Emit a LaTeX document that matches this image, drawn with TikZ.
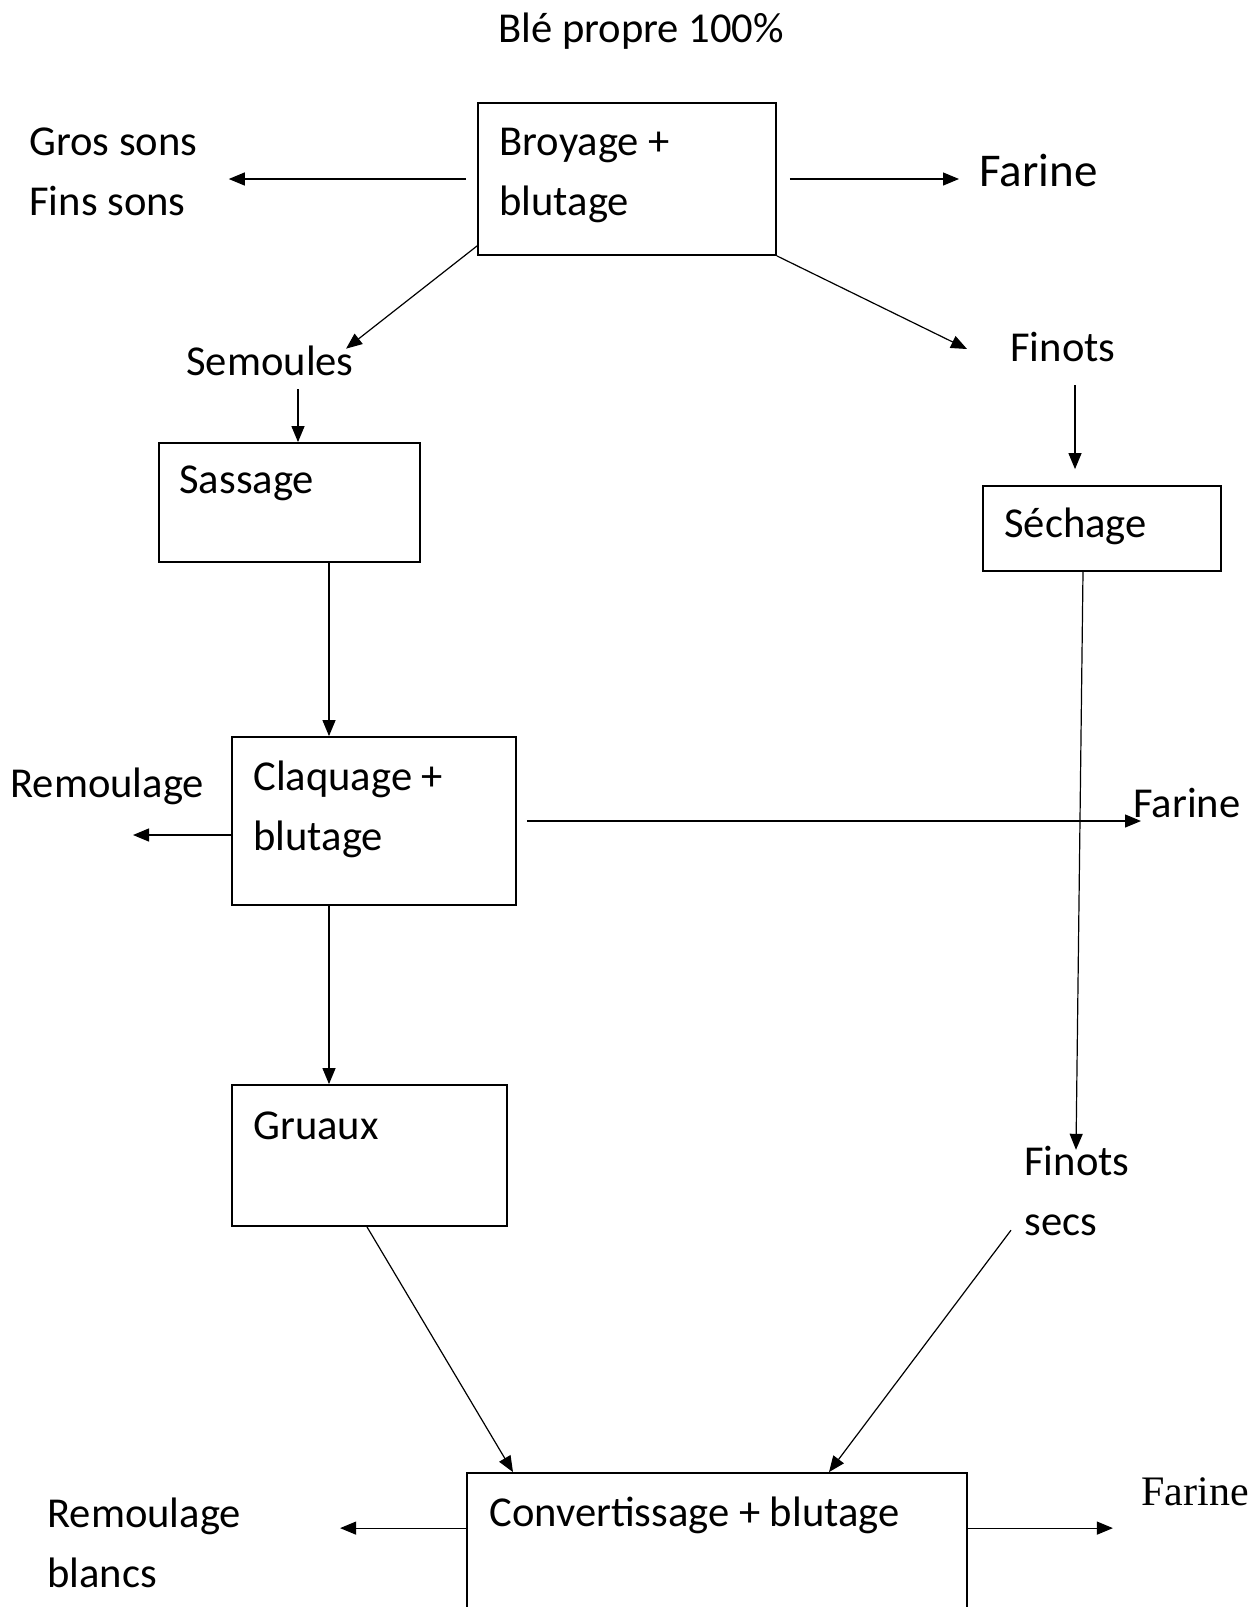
\documentclass[tikz,border=0pt]{standalone}
\usepackage{fontspec}
\setmainfont{Carlito}
\newfontfamily\timesfont{Liberation Serif}
\usetikzlibrary{arrows.meta, positioning, fit, calc}

\begin{document}
\begin{tikzpicture}[x=0.5pt, y=-0.5pt,
    box/.style={draw, line width=0.9pt, inner sep=0pt},
    txt/.style={inner sep=0pt, anchor=west, align=left, font=\fontsize{21.3}{30}\selectfont},
    arr/.style={line width=0.6pt, -{Triangle[length=8pt, width=6.5pt]}}]
  \useasboundingbox (0,0) rectangle (1259,1607);

  % Title
  \node[txt, anchor=center] (ble) at (641,31) {Blé propre 100\%};

  % Boxes
  \node[box, fit={(478,103) (776,255)}] (broyage) {};
  \node[box, fit={(159,443) (420,562)}] (sassage) {};
  \node[box, fit={(983,486) (1221,571)}] (sechage) {};
  \node[box, fit={(232,737) (516,905)}] (claquage) {};
  \node[box, fit={(232,1085) (507,1226)}] (gruaux) {};
  \node[box, fit={(467,1473) (967,1720)}] (convert) {};

  % Texts inside the boxes
  \node[txt] (broyagetxt) at (499,175) {Broyage +\\blutage};
  \node[txt] (sassagetxt) at (179,483) {Sassage};
  \node[txt] (sechagetxt) at (1004,526) {Séchage};
  \node[txt] (claquagetxt) at (253,809) {Claquage +\\blutage};
  \node[txt] (gruauxtxt) at (253,1126) {Gruaux};
  \node[txt] (converttxt) at (489,1515) {Convertissage + blutage};

  % Products
  \node[txt] (sons) at (29,172) {Gros sons\\Fins sons};
  \node[txt, font=\fontsize{23.5}{30}\selectfont] (farinea) at (979,170) {Farine};
  \node[txt] (semoules) at (186,361) {Semoules};
  \node[txt] (finots) at (1010,347) {Finots};
  \node[txt] (remoulage) at (10,786) {Remoulage};
  \node[txt] (farineb) at (1133,803) {Farine};
  \node[txt] (finotssecs) at (1024,1191) {Finots\\secs};
  \node[txt] (remb) at (47,1543) {Remoulage\\blancs};
  \node[txt, font=\timesfont\fontsize{21}{30}\selectfont] (farinec) at (1141,1492) {Farine};

  % Connectors
  \draw[arr, shorten <=5.5pt, shorten >=15.5pt] (broyage.west) -- (sons.east |- broyage.west);
  \draw[arr, shorten <=6.5pt, shorten >=10pt] (broyage.east) -- (farinea.west |- broyage.east);
  \draw[arr] ($(broyage.south west)+(0,-10)$) -- ($(semoules.north east)+(-8,3)$);
  \draw[arr] (broyage.south east) -- ($(finots.west)+(-43,2)$);
  \draw[arr, shorten <=6.5pt] (semoules.south -| 298,0) -- (sassage.north -| 298,0);
  \draw[arr, shorten <=11.5pt, shorten >=8pt] (finots.south -| 1075,0) -- (sechage.north -| 1075,0);
  \draw[arr] (sassage.south -| 329,0) -- (claquage.north -| 329,0);
  \draw[arr] ($(claquage.west)+(0,14)$) -- ($(remoulage.west |- claquage.west)+(123,14)$);
  \draw[arr, shorten <=5pt] (claquage.east) -- ($(farineb.west |- claquage.east)+(8,0)$);
  \draw[arr] (sechage.south -| 1083,0) -- ($(finotssecs.north west)+(52,4)$);
  \draw[arr] (claquage.south -| 329,0) -- (gruaux.north -| 329,0);
  \draw[arr] (gruaux.south -| 367,0) -- (convert.north -| 513,0);
  \draw[arr] ($(finotssecs.south west)+(-13,-6)$) -- (convert.north -| 829,0);
  \draw[arr] ($(convert.north west)+(0,56)$) -- ($(convert.north west)+(-126,56)$);
  \draw[arr] ($(convert.north east)+(0,56)$) -- ($(convert.north east)+(145,56)$);
\end{tikzpicture}
\end{document}
